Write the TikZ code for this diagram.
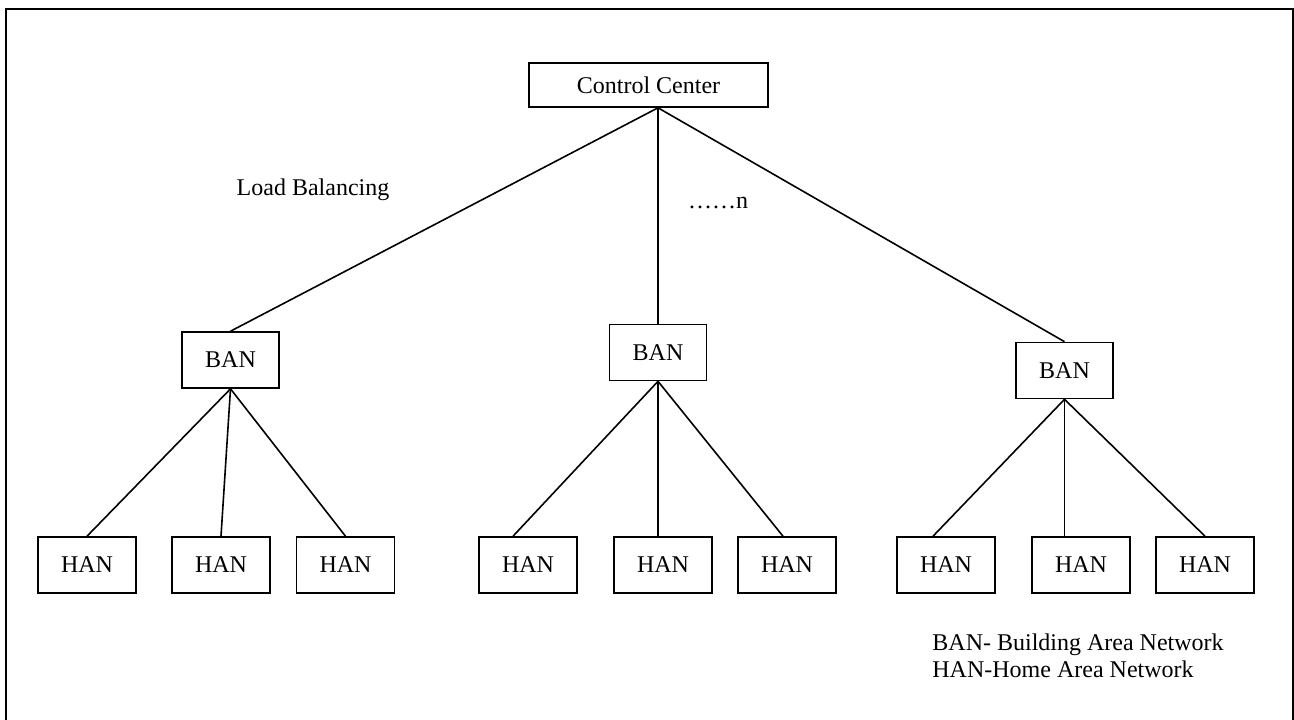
\documentclass[tikz,border=0pt]{standalone}
\usepackage{fontspec}
\setmainfont{Liberation Serif}
\begin{document}
\begin{tikzpicture}[x=0.5pt,y=-0.5pt,
    font=\fontsize{12}{13.5}\selectfont,
    box/.style={draw,line width=0.8pt,inner sep=0pt},
    ban/.style={box,minimum width=48.5pt,minimum height=28pt},
    han/.style={box,minimum width=49pt,minimum height=28pt},
    link/.style={line width=0.8pt}]
    \useasboundingbox (0,0) rectangle (1294,719);
    % Outer frame (bottom edge runs off the page)
    \draw[line width=1pt] (6,730) -- (6,9) -- (1293,9) -- (1293,730);
    % Control center on top
    \node[box,minimum width=119.5pt,minimum height=22pt] (cc) at (648.5,85) {Control Center};
    % Building area networks
    \node[ban] (ban1) at (230.5,360) {BAN};
    \node[ban] (ban2) at (658,352.5) {BAN};
    \node[ban] (ban3) at (1064.5,370.5) {BAN};
    % Home area networks, three under each BAN
    \node[han] (han11) at (87,565) {HAN};
    \node[han] (han12) at (221,565) {HAN};
    \node[han] (han13) at (345.5,565) {HAN};
    \node[han] (han21) at (528,565) {HAN};
    \node[han] (han22) at (663,565) {HAN};
    \node[han] (han23) at (787,565) {HAN};
    \node[han] (han31) at (946,565) {HAN};
    \node[han] (han32) at (1081,565) {HAN};
    \node[han] (han33) at (1205,565) {HAN};
    % Links from the control center
    \coordinate (hub) at (cc.south -| ban2.north);
    \draw[link] (hub) -- (ban1.north);
    \draw[link] (hub) -- (ban2.north);
    \draw[link] (hub) -- (ban3.north);
    % Links from each BAN down to its HANs
    \draw[link] (ban1.south) -- (han11.north);
    \draw[link] (ban1.south) -- (han12.north);
    \draw[link] (ban1.south) -- (han13.north);
    \draw[link] (ban2.south) -- ([xshift=-7.5pt]han21.north);
    \draw[link] (ban2.south) -- (ban2.south |- han22.north);
    \draw[link] (ban2.south) -- ([xshift=-2pt]han23.north);
    \draw[link] (ban3.south) -- ([xshift=-6.5pt]han31.north);
    \draw[link] (ban3.south) -- (ban3.south |- han32.north);
    \draw[link] (ban3.south) -- (han33.north);
    % Labels
    \node (lb) at (313,190) {Load Balancing};
    \node (more) at (718,203) {……n};
    \node[anchor=west,align=left,inner sep=0pt] (legend) at (932,656)
        {BAN- Building Area Network\\HAN-Home Area Network};
\end{tikzpicture}
\end{document}
